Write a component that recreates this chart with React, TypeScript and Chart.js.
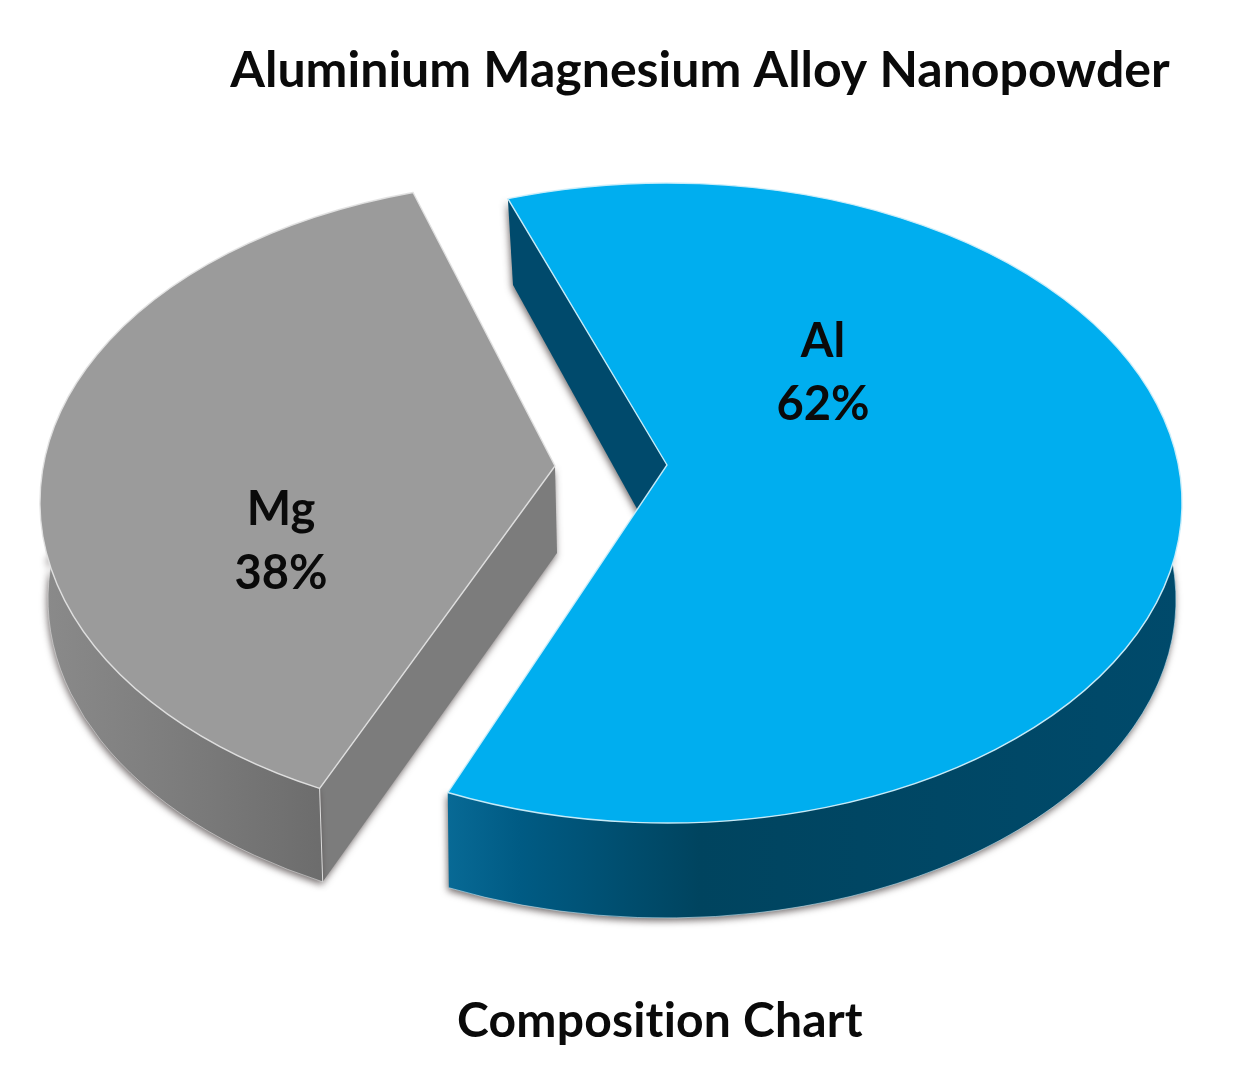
import React, { useEffect, useRef } from "react";
import { Chart, registerables } from "chart.js";

Chart.register(...registerables);

const categories = ["Al", "Mg"];
const compositionPercent = [62, 38];
const titleText = "Aluminium Magnesium Alloy Nanopowder";
const captionText = "Composition Chart";

const FONT = "Lato, Carlito, 'Open Sans', sans-serif";
const deg = Math.PI / 180;

// Projection of each slice (layout only)
const sliceLayouts: any[] = [
  {
    top: { cx: 667, cy: 503, rx: 515, ry: 320 },
    low: { cx: 666, cy: 600, rx: 510, ry: 318 },
    apexTop: [667, 465],
    apexLow: [667, 563],
    cutLowOuter: [513, 285],
    nudge: 0,
    face: "#00AEEF",
    cut: "#004A6C",
    edge: "rgba(205,238,250,0.95)",
    wallStops: [[445, "#086A96"], [520, "#005B84"], [700, "#00445F"], [1180, "#004A6B"]],
    label: [823, 342, 405],
  },
  {
    top: { cx: 555, cy: 502, rx: 515, ry: 322 },
    low: { cx: 554, cy: 599, rx: 506, ry: 318 },
    apexTop: [555, 466],
    apexLow: [557, 553],
    cutLowOuter: null,
    nudge: 2,
    face: "#9B9B9B",
    cut: "#7C7C7C",
    edge: "rgba(225,225,225,0.95)",
    wallStops: [[45, "#8A8A8A"], [200, "#7A7A7A"], [326, "#6C6C6C"]],
    label: [281, 510, 574],
  },
];

const projectedPie = {
  id: "projectedPie",
  beforeDatasetsDraw(chart: any) {
    const { ctx } = chart;
    const arcs = chart.getDatasetMeta(0).data;
    const total = compositionPercent.reduce((a, b) => a + b, 0);
    const pt = (E: any, a: number) => [E.cx + E.rx * Math.cos(a), E.cy + E.ry * Math.sin(a)];

    arcs.forEach((arc: any, i: number) => {
      const L = sliceLayouts[i];
      const { startAngle, endAngle } = arc.getProps(["startAngle", "endAngle"], true);
      const s = startAngle + L.nudge * deg;
      const e = endAngle + L.nudge * deg;

      // outer wall: only the near half of the rim is visible
      const topA = Math.max(s, 10 * deg);
      const topB = Math.min(e, 170 * deg);
      const lowA = Math.max(s, -10 * deg);
      const lowB = Math.min(e, 190 * deg);
      const x0 = L.wallStops[0][0] as number;
      const x1 = L.wallStops[L.wallStops.length - 1][0] as number;
      const grad = ctx.createLinearGradient(x0, 0, x1, 0);
      L.wallStops.forEach(([x, c]: any) => grad.addColorStop((x - x0) / (x1 - x0), c));

      const wallPath = () => {
        ctx.beginPath();
        ctx.ellipse(L.top.cx, L.top.cy, L.top.rx, L.top.ry, 0, topA, topB);
        ctx.ellipse(L.low.cx, L.low.cy, L.low.rx, L.low.ry, 0, lowB, lowA, true);
        ctx.closePath();
      };

      // radial cut face that looks towards the viewer
      const cutTop = pt(L.top, s);
      const cutLow = L.cutLowOuter || pt(L.low, s);
      const cutPath = () => {
        ctx.beginPath();
        ctx.moveTo(cutTop[0], cutTop[1]);
        ctx.lineTo(L.apexTop[0], L.apexTop[1]);
        ctx.lineTo(L.apexLow[0], L.apexLow[1]);
        ctx.lineTo(cutLow[0], cutLow[1]);
        ctx.closePath();
      };

      ctx.save();
      ctx.shadowColor = "rgba(60,50,50,0.7)";
      ctx.shadowBlur = 7;
      ctx.shadowOffsetX = -1;
      ctx.shadowOffsetY = 3;
      ctx.fillStyle = L.cut;
      cutPath();
      ctx.fill();
      ctx.fillStyle = grad;
      wallPath();
      ctx.fill();
      ctx.restore();

      ctx.save();
      ctx.strokeStyle = L.edge;
      ctx.lineWidth = 1;
      ctx.globalAlpha = 0.6;
      ctx.beginPath();
      ctx.ellipse(L.low.cx, L.low.cy, L.low.rx, L.low.ry, 0, lowA, lowB);
      ctx.stroke();
      ctx.restore();

      // top surface
      ctx.beginPath();
      ctx.moveTo(L.apexTop[0], L.apexTop[1]);
      ctx.ellipse(L.top.cx, L.top.cy, L.top.rx, L.top.ry, 0, s, e);
      ctx.closePath();
      ctx.fillStyle = L.face;
      ctx.fill();
      ctx.strokeStyle = L.edge;
      ctx.lineWidth = 1.4;
      ctx.stroke();

      // vertical corner edge
      if (!L.cutLowOuter) {
        ctx.beginPath();
        ctx.moveTo(cutTop[0], cutTop[1]);
        ctx.lineTo(cutLow[0], cutLow[1]);
        ctx.lineWidth = 1;
        ctx.stroke();
      }

      // slice label
      ctx.fillStyle = "#0A0A0A";
      ctx.font = `bold 47px ${FONT}`;
      ctx.textAlign = "center";
      ctx.textBaseline = "middle";
      ctx.fillText(categories[i], L.label[0], L.label[1]);
      ctx.fillText(`${Math.round((compositionPercent[i] / total) * 100)}%`, L.label[0], L.label[2]);
    });

    ctx.save();
    ctx.fillStyle = "#0A0A0A";
    ctx.font = `bold 48px ${FONT}`;
    (ctx as any).letterSpacing = "0.2px";
    ctx.textAlign = "center";
    ctx.textBaseline = "middle";
    ctx.fillText(captionText, 660, 1022);
    ctx.restore();
    return false;
  },
};

export default function App() {
  const ref = useRef<HTMLCanvasElement>(null);
  useEffect(() => {
    const chart = new Chart(ref.current as HTMLCanvasElement, {
      type: "pie",
      data: {
        labels: categories,
        datasets: [{ data: compositionPercent, backgroundColor: ["#00AEEF", "#9B9B9B"], borderWidth: 0 }],
      },
      options: {
        responsive: false,
        animation: false,
        rotation: -18,
        layout: { padding: { left: 167 } },
        plugins: {
          legend: { display: false },
          tooltip: { enabled: false },
          title: {
            display: true,
            text: titleText,
            fullSize: false,
            color: "#0A0A0A",
            font: { family: FONT, size: 50, weight: "bold" },
            padding: { top: 41, bottom: 10 },
          },
        },
      },
      plugins: [projectedPie],
    } as any);
    return () => chart.destroy();
  }, []);
  return (
    <canvas
      ref={ref}
      width={1233}
      height={1077}
      style={{ position: "absolute", left: 0, top: 0, display: "block", background: "#fff" }}
    />
  );
}
